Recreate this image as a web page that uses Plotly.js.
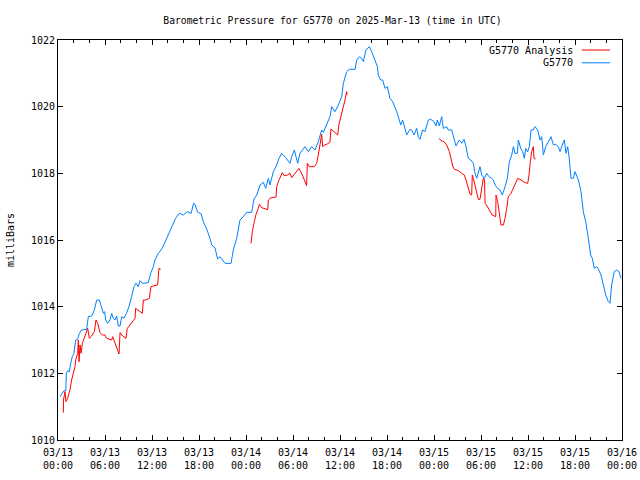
<!DOCTYPE html>
<html>
<head>
<meta charset="utf-8">
<script src="https://cdn.plot.ly/plotly-3.0.1.min.js"></script>
<style>html,body{margin:0;padding:0;background:#fff;}#chart{width:640px;height:480px;}</style>
</head>
<body>
<div id="chart"></div>
<script>
// Hours since 2025-03-13 00:00 UTC
const stationHours = [0.26,0.77,1.0,1.06,1.23,1.45,1.62,1.83,2.04,2.26,2.51,2.72,3.02,3.66,3.87,4.3,4.64,4.94,5.28,5.57,5.79,5.95,6.09,6.34,6.64,6.85,7.06,7.28,7.49,7.70,7.92,8.13,8.43,8.77,9.06,9.40,9.70,9.96,10.25,10.47,10.77,11.53,11.83,12.17,12.38,12.81,13.15,13.5,14.0,14.5,15.0,15.5,16.0,16.5,17.0,17.3,17.49,17.83,18.26,18.55,18.98,19.40,19.62,20.04,20.38,20.68,21.11,21.32,22.09,22.38,22.81,23.23,23.66,24.09,24.72,25.02,25.37,25.79,26.21,26.52,26.85,27.06,27.49,27.92,28.21,28.56,29.07,29.62,29.83,30.17,30.60,30.89,31.53,31.96,32.38,32.81,33.23,33.66,33.87,34.30,34.72,34.94,35.36,35.79,36.22,36.43,36.85,37.19,37.92,38.13,38.47,38.77,38.98,39.32,39.74,40.05,40.47,40.77,40.89,41.19,41.45,41.74,42.04,42.38,42.72,43.02,43.24,43.57,43.75,44.0,44.30,44.51,44.94,45.15,45.45,45.79,46.0,46.21,46.55,46.85,47.28,47.58,48.0,48.26,48.43,48.68,48.98,49.19,49.62,49.83,50.26,50.55,50.81,51.23,51.54,51.83,52.09,52.38,52.69,53.02,53.24,53.45,53.66,53.87,54.09,54.42,54.73,55.02,55.37,55.57,55.79,56.13,56.43,56.72,57.07,57.36,57.62,57.92,58.13,58.34,58.64,58.77,59.07,59.32,59.53,59.70,59.96,60.17,60.39,60.68,60.90,61.24,61.53,61.75,61.96,62.26,62.60,62.94,63.24,63.54,63.87,64.09,64.38,64.64,64.85,65.07,65.24,65.49,65.79,66.0,66.43,66.77,67.06,67.37,67.70,68.0,68.21,68.47,68.77,68.98,69.32,69.62,69.92,70.26,70.47,70.68,71.02,71.32,71.62,71.87];
const stationPressure = [1011.30,1011.48,1011.48,1012.0,1012.08,1012.05,1012.3,1012.5,1012.6,1013.0,1013.02,1013.2,1013.3,1013.32,1013.7,1013.72,1013.9,1014.2,1014.2,1014.0,1013.8,1013.85,1013.6,1013.5,1013.6,1013.8,1013.65,1013.6,1013.72,1013.42,1013.42,1013.7,1013.65,1013.82,1014.0,1014.3,1014.6,1014.7,1014.6,1014.78,1014.7,1014.72,1015.0,1015.2,1015.4,1015.6,1015.7,1015.85,1016.1,1016.4,1016.65,1016.8,1016.75,1016.85,1016.8,1017.1,1017.07,1016.83,1016.79,1016.55,1016.33,1016.05,1015.85,1015.77,1015.43,1015.5,1015.35,1015.3,1015.3,1015.7,1016.05,1016.6,1016.7,1016.83,1016.83,1017.23,1017.35,1017.65,1017.73,1017.55,1017.85,1017.65,1018.05,1018.25,1018.45,1018.6,1018.47,1018.3,1018.5,1018.7,1018.3,1018.6,1018.8,1018.65,1018.8,1018.7,1018.95,1019.3,1019.23,1019.45,1019.7,1020.0,1019.85,1020.05,1020.3,1020.7,1021.05,1021.12,1021.12,1021.4,1021.5,1021.45,1021.35,1021.7,1021.8,1021.65,1021.4,1021.2,1020.95,1020.8,1020.8,1020.55,1020.6,1020.25,1020.15,1020.0,1019.85,1019.6,1019.45,1019.6,1019.3,1019.15,1019.32,1019.3,1019.15,1019.35,1019.1,1019.02,1019.3,1019.25,1019.6,1019.62,1019.55,1019.42,1019.6,1019.42,1019.7,1019.35,1019.4,1019.3,1019.3,1019.08,1018.82,1019.0,1018.9,1019.02,1018.8,1018.45,1018.4,1018.3,1018.0,1017.85,1018.05,1018.2,1017.95,1017.85,1018.0,1017.9,1017.85,1017.8,1017.65,1017.55,1017.5,1017.35,1017.6,1017.85,1018.35,1018.55,1018.8,1018.6,1018.6,1019.0,1018.75,1018.65,1018.45,1018.75,1018.65,1018.8,1019.3,1019.3,1019.4,1019.3,1019.0,1019.1,1018.55,1018.8,1018.95,1019.1,1018.85,1018.87,1018.8,1018.65,1018.85,1019.0,1018.6,1018.8,1018.5,1017.85,1017.85,1018.05,1017.8,1017.45,1016.85,1016.55,1016.05,1015.55,1015.45,1015.15,1015.2,1015.13,1014.95,1014.65,1014.35,1014.15,1014.1,1014.65,1015.05,1015.1,1015.05,1014.85];

const analysisHours = [0.68,0.70,0.89,1.02,1.23,1.53,1.74,1.96,2.17,2.25,2.51,2.60,2.68,2.81,2.94,3.11,3.36,3.66,3.79,4.0,4.30,4.64,4.85,5.07,5.36,5.66,6.0,6.21,6.51,6.85,6.98,7.19,7.40,7.62,7.79,7.92,8.26,8.68,8.85,9.19,9.54,9.83,9.91,10.25,10.77,10.89,11.19,11.66,11.87,12.17,12.72,12.89,13.11,18,24.64,24.81,25.06,25.28,25.57,25.70,26.0,26.34,26.77,26.85,27.19,27.83,27.92,28.21,28.64,28.89,29.32,29.62,29.83,30.17,30.77,31.19,31.74,31.83,32.09,32.72,33.02,33.23,33.45,33.66,33.79,34.0,34.30,34.72,34.85,35.15,35.70,35.87,36.13,36.43,36.64,36.85,36.9,42,48.68,48.89,49.28,49.62,49.96,50.17,50.39,50.60,51.11,51.54,51.87,52.09,52.38,52.60,52.81,52.89,53.02,53.24,53.45,53.66,53.87,54.09,54.30,54.45,54.52,54.7,55.09,55.43,55.88,55.92,56.13,56.34,56.55,56.85,57.07,57.28,57.49,57.83,58.13,58.43,58.69,59.11,59.53,59.96,60.13,60.30,60.47,60.68,60.77,60.98];
const analysisPressure = [1010.82,1011.2,1011.45,1011.15,1011.25,1011.5,1011.8,1012.0,1012.2,1012.4,1012.6,1013.0,1012.35,1012.85,1012.6,1012.9,1013.05,1013.25,1013.35,1013.05,1013.12,1013.25,1013.6,1013.5,1013.22,1013.15,1013.15,1013.05,1013.02,1013.0,1013.1,1012.95,1012.85,1012.65,1012.58,1013.22,1013.12,1013.05,1013.35,1013.45,1013.55,1013.65,1013.95,1013.9,1013.8,1014.2,1014.2,1014.25,1014.6,1014.62,1014.65,1015.15,1015.12,null,1015.9,1016.25,1016.55,1016.77,1016.95,1017.07,1016.97,1016.95,1016.91,1017.2,1017.27,1017.29,1017.6,1017.8,1018.02,1017.93,1017.95,1018.0,1017.87,1017.97,1018.15,1017.95,1017.63,1018.3,1018.2,1018.2,1018.3,1018.55,1018.85,1019.17,1018.8,1018.85,1018.87,1018.93,1019.33,1019.27,1019.15,1019.47,1019.7,1019.95,1020.2,1020.45,1020.35,null,1019.05,1018.98,1018.95,1018.85,1018.65,1018.4,1018.22,1018.12,1018.08,1018.0,1017.95,1017.8,1017.6,1017.38,1017.35,1017.95,1017.85,1017.6,1017.4,1017.22,1017.22,1017.5,1017.85,1017.8,1017.1,1017.05,1016.9,1016.75,1016.7,1017.35,1017.15,1016.85,1016.45,1016.45,1016.65,1016.95,1017.3,1017.4,1017.55,1017.75,1017.85,1017.8,1017.73,1017.7,1017.95,1018.35,1018.65,1018.8,1018.45,1018.43];

const tickHours = [0,6,12,18,24,30,36,42,48,54,60,66,72];
const tickLabels = ['03/13<br>00:00','03/13<br>06:00','03/13<br>12:00','03/13<br>18:00','03/14<br>00:00','03/14<br>06:00','03/14<br>12:00','03/14<br>18:00','03/15<br>00:00','03/15<br>06:00','03/15<br>12:00','03/15<br>18:00','03/16<br>00:00'];
const seriesNames = ['G5770 Analysis','G5770'];
const seriesColors = ['#ff0000','#0080ff'];

const mono = 'DejaVu Sans Mono, monospace';

const traces = [
  {x: analysisHours, y: analysisPressure, type:'scatter', mode:'lines', name: seriesNames[0],
   line:{color: seriesColors[0], width:1}, connectgaps:false, showlegend:false},
  {x: stationHours, y: stationPressure, type:'scatter', mode:'lines', name: seriesNames[1],
   line:{color: seriesColors[1], width:1}, showlegend:false}
];

const legendY = [0.975, 0.943];
const annotations = seriesNames.map((n,i)=>({
  xref:'paper', yref:'paper', x:0.9167, y:legendY[i], xanchor:'right', yanchor:'middle',
  text:n, showarrow:false, font:{family:mono, size:10, color:'#000'}
}));
const shapes = seriesNames.map((n,i)=>({
  type:'line', xref:'paper', yref:'paper', x0:0.9285, x1:0.9787, y0:legendY[i], y1:legendY[i],
  line:{color:seriesColors[i], width:1}
}));

const layout = {
  width:640, height:480,
  margin:{l:58, r:18, t:40, b:40, pad:0},
  paper_bgcolor:'#fff', plot_bgcolor:'#fff',
  font:{family:mono, size:10, color:'#000'},
  title:{text:'Barometric Pressure for G5770 on 2025-Mar-13 (time in UTC)', font:{family:mono, size:9.7, color:'#000'},
         xref:'paper', x:0.4867, xanchor:'center', yref:'container', y:0.958, yanchor:'middle'},
  xaxis:{range:[0,72], tickmode:'array', tickvals:tickHours, ticktext:tickLabels,
         showline:true, linecolor:'#000', linewidth:1, mirror:'allticks',
         ticks:'inside', ticklen:5, tickcolor:'#000', tickwidth:1, showgrid:false, zeroline:false,
         ticklabelstandoff:3,
         tickfont:{family:mono, size:10, color:'#000'},
         minor:{tickmode:'linear', tick0:0, dtick:2, ticks:'inside', ticklen:3, tickcolor:'#000', showgrid:false}},
  yaxis:{range:[1010,1022], dtick:2, tick0:1010,
         showline:true, linecolor:'#000', linewidth:1, mirror:'allticks',
         ticks:'inside', ticklen:5, tickcolor:'#000', tickwidth:1, showgrid:false, zeroline:false,
         tickfont:{family:mono, size:10, color:'#000'},
         title:{text:'milliBars', font:{family:mono, size:10, color:'#000'}, standoff:14}},
  annotations: annotations,
  shapes: shapes
};

Plotly.newPlot('chart', traces, layout, {staticPlot:true, displayModeBar:false});
</script>
</body>
</html>
